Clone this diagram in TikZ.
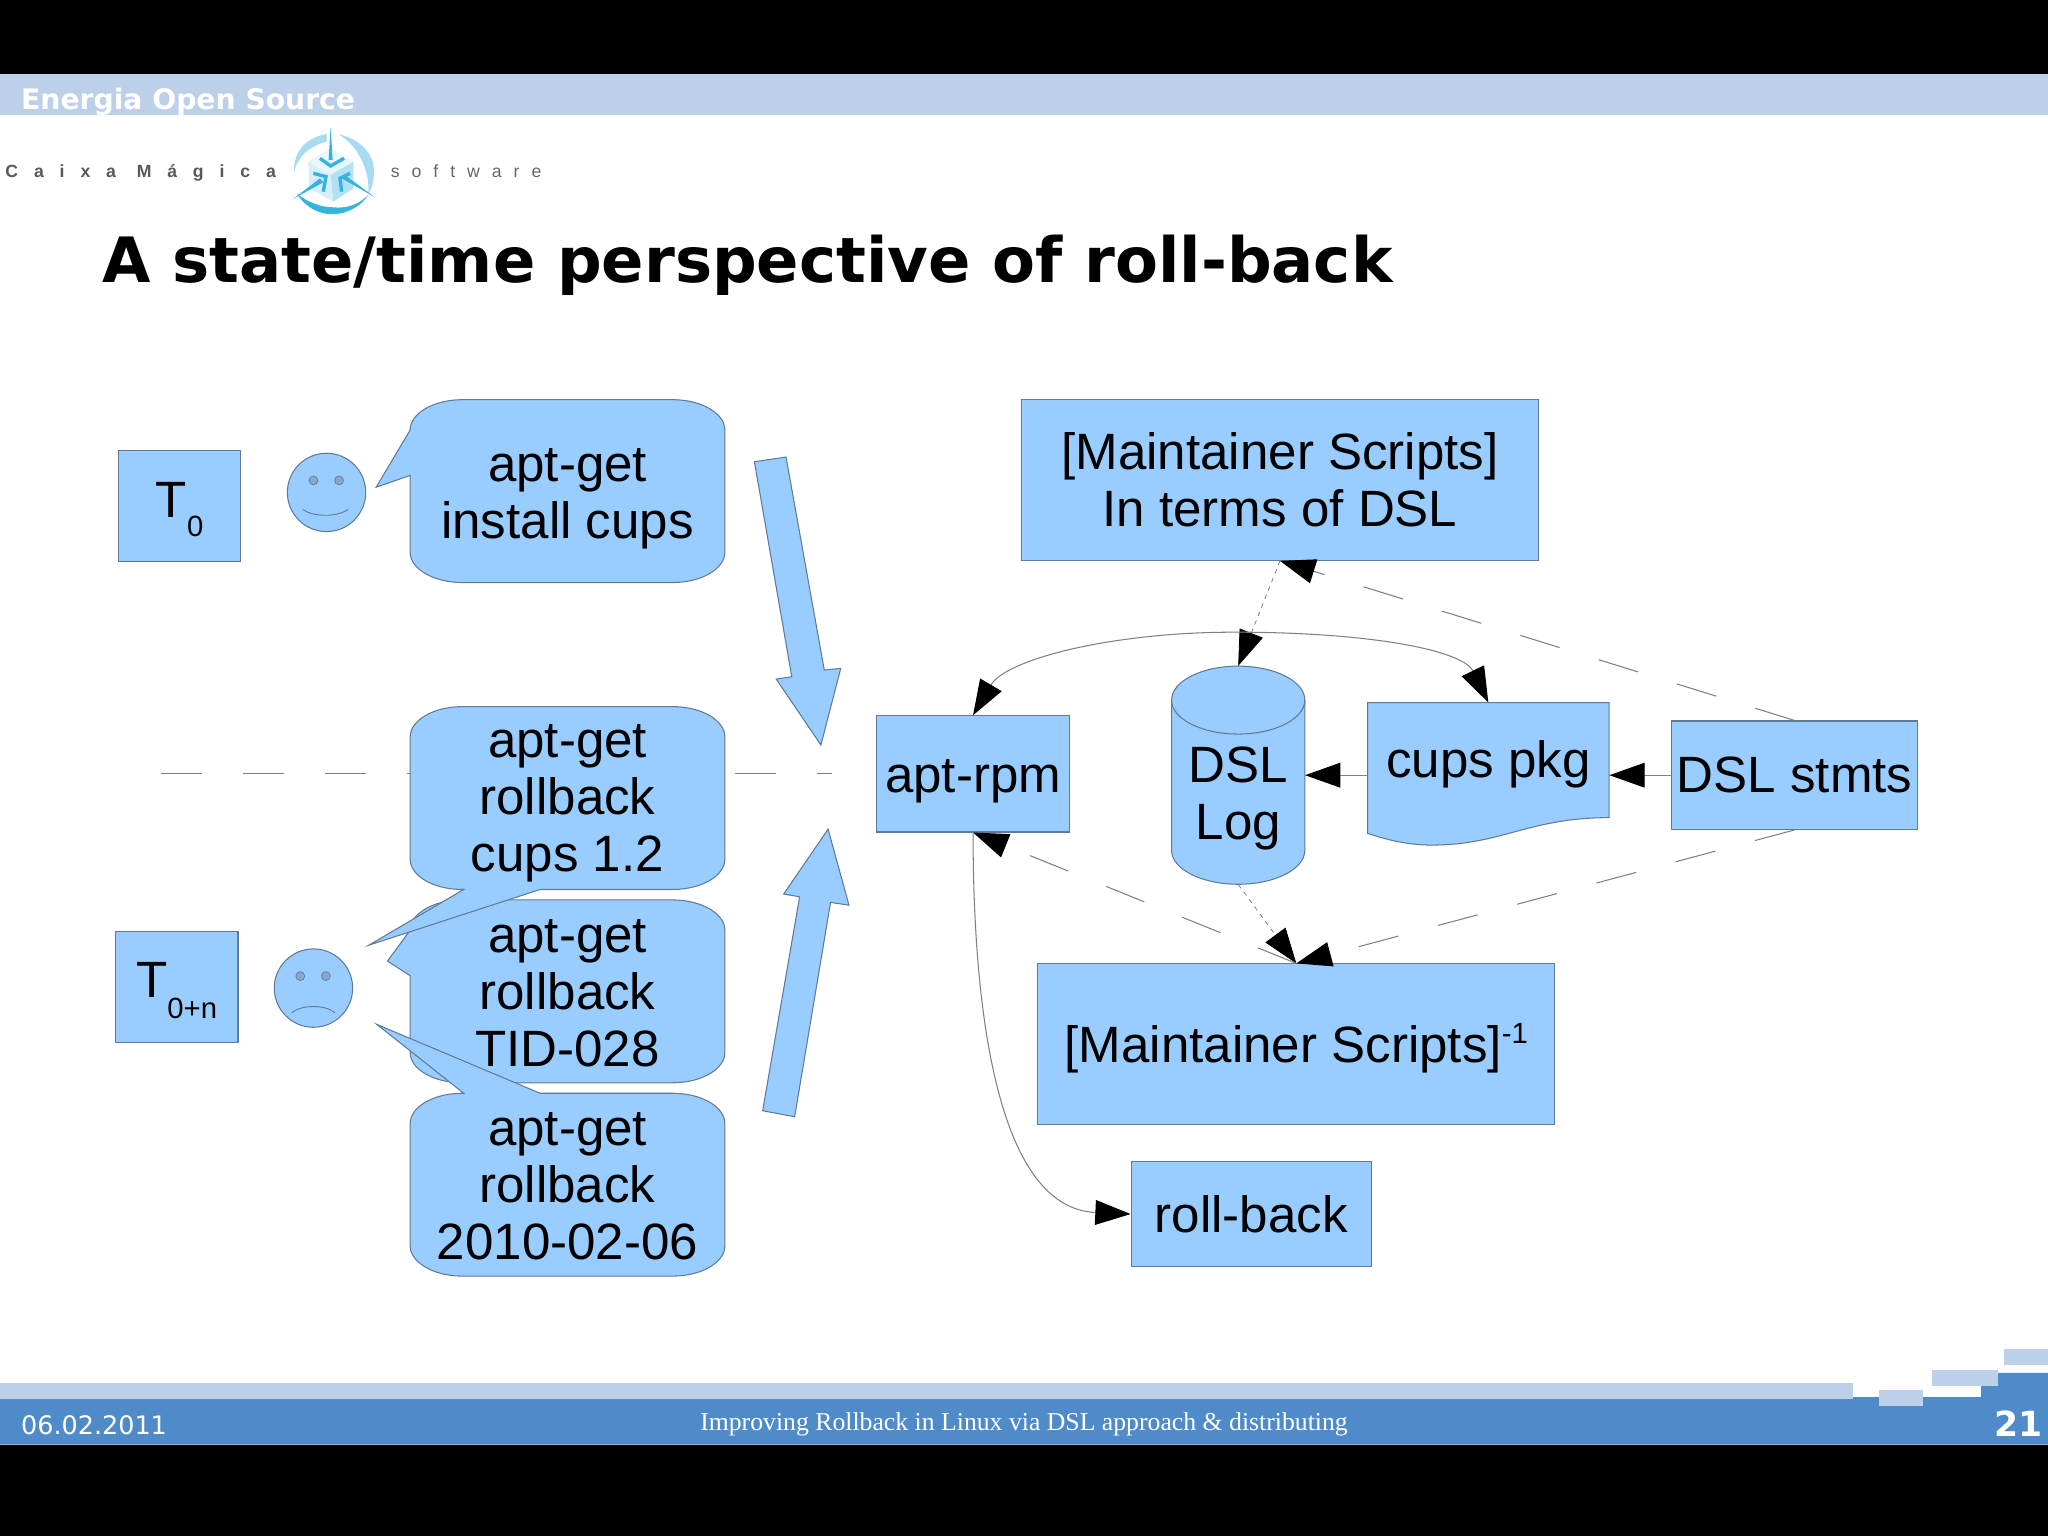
\documentclass[tikz,border=0pt]{standalone}
\usepackage{fontspec}
\setmainfont{Liberation Sans}
\newfontfamily\dejavu{DejaVu Sans}
\newfontfamily\libserif{Liberation Serif}
\newfontfamily\logobold[LetterSpace=90]{Liberation Sans Bold}
\newfontfamily\logoreg[LetterSpace=68]{Liberation Sans}
\usetikzlibrary{arrows.meta}
\definecolor{shapefill}{HTML}{99CCFF}
\definecolor{shapeline}{HTML}{5F7A96}
\definecolor{bandlight}{HTML}{BDD0EA}
\definecolor{bandblue}{HTML}{4F8BC9}
\definecolor{conn}{HTML}{808080}
\definecolor{eye}{HTML}{86A8CC}
\definecolor{logoa}{HTML}{35B4DE}
\definecolor{logob}{HTML}{A5DCF0}
\tikzset{
  bigtip/.tip={Triangle[length=27pt,width=19pt,color=black,fill=black]},
  outline/.style={draw=shapeline,line width=0.8pt,fill=shapefill},
  body/.style={font=\fontsize{39.1}{43.6}\selectfont,align=center,text=black,inner sep=0pt},
  box/.style={outline,rectangle,body,minimum width=#1},
  ghost/.style={rectangle,body},
  tipped/.style={-bigtip},
  wire/.style={draw=conn,line width=0.8pt},
  longdash/.style={wire,dash pattern=on 31.5pt off 31.3pt},
  shortdash/.style={wire,line width=0.6pt,dash pattern=on 3.5pt off 3.5pt},
  thinface/.style={draw=shapeline,line width=0.7pt},
}
\newcommand{\bub}[7]{%
  \draw[outline] (314,#2+23.3) .. controls (314,#2+10.4) and (332,#2) .. (354,#2) #3 -- (515,#2)
    .. controls (537,#2) and (555,#2+10.4) .. (555,#2+23.3) -- (555,#2+116.7)
    .. controls (555,#2+129.6) and (537,#2+140) .. (515,#2+140) #5 -- (354,#2+140)
    .. controls (332,#2+140) and (314,#2+129.6) .. (314,#2+116.7) #4 -- cycle;
  \node[ghost] (#1) at (434.5,#2+70+#7) {#6};
}
\begin{document}
\begin{tikzpicture}[x=1pt,y=-1pt]
\useasboundingbox (0,0) rectangle (1568,1176);
\fill[white] (0,0) rectangle (1568,1176);
% frame
\fill[black] (0,0) rectangle (1568,57);
\fill[black] (0,1106) rectangle (1568,1176);
\fill[bandlight] (0,57) rectangle (1568,88);
\node[anchor=base west,inner sep=0pt,text=white,font=\dejavu\bfseries\fontsize{21.6}{24}\selectfont] (brand) at (16,83.5) {Energia Open Source};
% logo
\node[anchor=base west,inner sep=0pt,text=black!65,font=\logobold\fontsize{13.5}{15}\selectfont] (caixa) at (4,136) {Caixa Mágica};
\node[anchor=base west,inner sep=0pt,text=black!60,font=\logoreg\fontsize{13.5}{15}\selectfont] (soft) at (299,136) {software};
\begin{scope}[shift={(206.7,84.2)},x=.2552pt,y=-.2552pt]
  \fill[logob] (170,72) .. controls (100,85) and (70,130) .. (72,190) .. controls (78,150) and (110,110) .. (170,95) -- cycle;
  \fill[logob] (205,72) .. controls (280,90) and (315,140) .. (312,190) .. controls (310,230) and (300,245) .. (295,250) .. controls (300,190) and (270,110) .. (205,72) -- cycle;
  \fill[logoa] (80,250) .. controls (110,300) and (160,315) .. (190,312) .. controls (240,312) and (280,280) .. (295,255) .. controls (260,290) and (220,295) .. (190,292) .. controls (150,292) and (110,275) .. (80,250) -- cycle;
  \fill[white!75!logob] (115,155) -- (180,115) -- (250,155) -- (182,195) -- cycle;
  \fill[white!55!logob] (115,155) -- (182,195) -- (190,275) -- (118,235) -- cycle;
  \fill[white!15!logob] (250,155) -- (182,195) -- (190,275) -- (250,235) -- cycle;
  \fill[logoa] (182,50) -- (176,150) -- (188,150) -- cycle;
  \draw[logoa,line width=2.6pt] (150,145) -- (182,168) -- (222,145);
  \fill[logoa] (68,268) -- (150,205) -- (160,217) -- cycle;
  \draw[logoa,line width=2.6pt] (130,190) -- (168,200) -- (160,245);
  \fill[logoa] (315,262) -- (215,205) -- (225,195) -- cycle;
  \draw[logoa,line width=2.6pt] (240,190) -- (210,205) -- (215,245);
\end{scope}
% title
\node[anchor=base west,inner sep=0pt,font=\dejavu\bfseries\fontsize{47.85}{52}\selectfont] (title) at (78,216) {A state/time perspective of roll-back};
% timeline behind the bubbles
\coordinate (lineL) at (123,592.5);
\coordinate (lineR) at (637,592.5);
\draw[longdash] (lineL) -- (lineR);
% left column
\node[box=93pt,minimum height=85pt] (t0) at (137.5,387.5) {};
\node[anchor=base west,body] (t0T) at (119,396) {T};
\node[anchor=base west,inner sep=0pt,font=\fontsize{22.4}{24}\selectfont] (t0S) at (143,411) {0};
\node[box=94pt,minimum height=85pt] (tn) at (135.2,755.5) {};
\node[anchor=base west,body] (tnT) at (104,764) {T};
\node[anchor=base west,inner sep=0pt,font=\fontsize{22.4}{24}\selectfont] (tnS) at (128,780) {0+n};
% faces
\node[outline,circle,minimum size=60pt,inner sep=0pt] (smile) at (250,377) {};
\fill[eye,draw=shapeline,line width=.5pt] (240,367.8) circle (3.4);
\fill[eye,draw=shapeline,line width=.5pt] (259.6,367.8) circle (3.4);
\draw[thinface] (231.7,390) .. controls (240,396) and (258,396) .. (266.6,390);
\node[outline,circle,minimum size=60pt,inner sep=0pt] (frown) at (240,756.5) {};
\fill[eye,draw=shapeline,line width=.5pt] (229.9,747.3) circle (3.4);
\fill[eye,draw=shapeline,line width=.5pt] (249.5,747.3) circle (3.4);
\draw[thinface] (223.2,775.4) .. controls (231,769) and (249,769) .. (256.5,775.4);
% bubbles
\bub{b1}{306}{}{-- (314,364) -- (288,373)}{}{apt-get\\install cups}{6}
\bub{b3}{689}{}{-- (314,747) -- (296.6,735.8)}{}{apt-get\\rollback\\TID-028}{1.5}
\bub{b2}{541}{}{}{-- (413.5,681) -- (282.5,723.6) -- (355,681)}{apt-get\\rollback\\cups 1.2}{4}
\bub{b4}{837}{-- (355,837) -- (288.5,784.3) -- (413.5,837)}{}{}{apt-get\\rollback\\2010-02-06}{1}
% block arrows
\draw[outline] (577.6,353.5) -- (601.8,349.9) -- (631.1,513) -- (643.7,511.7) -- (628.5,570.4) -- (594.3,519.9) -- (606.2,518.1) -- cycle;
\draw[outline] (583.9,850.4) -- (608.4,855) -- (635.9,690.9) -- (650,693) -- (634,634.8) -- (600,684.5) -- (612.2,686.6) -- cycle;
% right side nodes
\node[box=396pt,minimum height=123pt] (maint) at (980,367.5) {[Maintainer Scripts]\\In terms of DSL};
\node[box=148pt,minimum height=89pt] (apt) at (745,592.5) {};
\node[ghost] (aptT) at (745,598.5) {apt-rpm};
% DSL log
\draw[outline] (897,536) arc[start angle=180,end angle=0,x radius=51,y radius=-26] -- (999,651) arc[start angle=0,end angle=-180,x radius=51,y radius=-26] -- cycle;
\draw[draw=shapeline,line width=0.8pt] (897,536) arc[start angle=180,end angle=360,x radius=51,y radius=-26];
\node[ghost,minimum width=102pt,minimum height=167pt] (dsl) at (948,593.5) {};
\node[ghost] (dslT) at (948,611) {DSL\\Log};
% cups pkg
\draw[outline] (1047,538) -- (1232,538) -- (1232,626) .. controls (1170,626) and (1150,647) .. (1096,647) .. controls (1080,647) and (1065,644) .. (1047,638) -- cycle;
\node[ghost,minimum width=185pt,minimum height=88pt] (cups) at (1139.5,582) {};
\node[ghost] (cupsT) at (1139.5,585) {cups pkg};
% others
\node[box=188pt,minimum height=83pt] (stmts) at (1374,593.5) {DSL stmts};
\node[box=396pt,minimum height=123pt] (inv) at (992.5,799.5) {};
\node[ghost] (invT) at (992.5,802.5) {[Maintainer Scripts]\raisebox{15pt}{\fontsize{22.4}{24}\selectfont -1}};
\node[box=184pt,minimum height=81pt] (roll) at (958,929.5) {roll-back};
% connectors
\draw[shortdash,tipped] (maint.south) -- (dsl.north);
\draw[longdash,tipped] (stmts.north) -- (maint.south);
\draw[wire,bigtip-bigtip] (apt.north) .. controls (770,505) and (850,484) .. (945,484) .. controls (1050,484) and (1120,498) .. (cups.north);
\draw[wire,tipped] (cups.west |- dsl.east) -- (dsl.east);
\draw[wire,tipped] (stmts.west) -- (stmts.west -| cups.east);
\draw[shortdash,tipped] (dsl.south) -- (inv.north);
\draw[longdash,tipped] (stmts.south) -- (inv.north);
\draw[longdash,tipped] (inv.north) -- (apt.south);
\draw[wire,tipped] (apt.south) .. controls (745,780) and (765,925) .. (roll.west);
% footer
\fill[bandblue] (0,1069.7) -- (1516.8,1069.7) -- (1516.8,1051) -- (1568,1051) -- (1568,1106) -- (0,1106) -- cycle;
\fill[bandlight] (0,1059) rectangle (1418.6,1071);
\fill[bandlight] (1438.7,1064) rectangle (1472.5,1076.3);
\fill[bandlight] (1479,1049) rectangle (1530,1061);
\fill[bandlight] (1534.5,1033) rectangle (1568,1045);
\node[anchor=base west,inner sep=0pt,text=white,font=\dejavu\fontsize{19.5}{22}\selectfont] (date) at (16,1098) {06.02.2011};
\node[anchor=base,inner sep=0pt,text=white,font=\libserif\fontsize{19.7}{22}\selectfont] (foot) at (784,1095) {Improving Rollback in Linux via DSL approach \& distributing};
\node[anchor=base east,inner sep=0pt,text=white,font=\dejavu\bfseries\fontsize{26.5}{28}\selectfont] (page) at (1564,1100) {21};
\end{tikzpicture}
\end{document}
